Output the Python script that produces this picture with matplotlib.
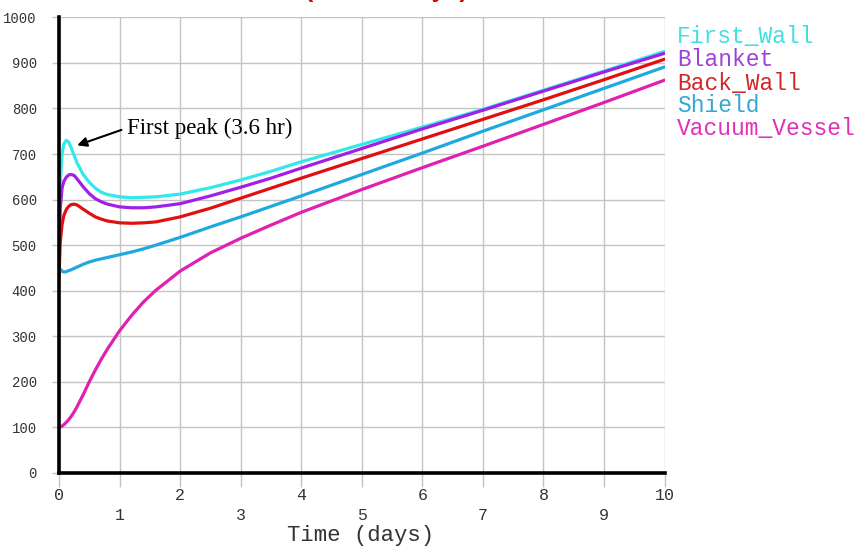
import matplotlib
matplotlib.use("Agg")
import matplotlib.pyplot as plt

# ---- data ----
time_days = [0, 0.02, 0.05, 0.08, 0.12, 0.16, 0.2, 0.25, 0.3, 0.4, 0.5, 0.6, 0.7, 0.8,
             1.0, 1.2, 1.4, 1.6, 2.0, 2.5, 3.0, 3.5, 4, 5, 6, 7, 8, 9, 10]

first_wall = [500, 635, 700, 722, 730, 726, 714, 697, 680, 655, 638, 625, 616, 611,
              606, 604, 605, 606, 612, 626, 643, 662, 683, 721, 759, 798, 840, 882, 925]
blanket = [460, 580, 625, 640, 649, 654, 655, 653, 645, 628, 613, 602, 595, 590,
           584, 582, 582, 584, 591, 608, 627, 647, 669, 712, 755, 796, 838, 880, 921]
back_wall = [430, 505, 545, 565, 578, 585, 589, 590, 588, 579, 570, 562, 557, 553,
             549, 548, 549, 551, 562, 581, 603, 625, 647, 690, 733, 776, 819, 863, 908]
shield = [452, 447, 443, 441, 442, 444, 446, 449, 452, 458, 463, 467, 470, 473,
          479, 485, 492, 500, 517, 540, 562, 585, 608, 655, 702, 750, 797, 844, 891]
vacuum_vessel = [100, 101, 103, 106, 111, 117, 124, 134, 146, 172, 200, 226, 250, 272,
                 312, 346, 376, 401, 443, 483, 515, 544, 572, 622, 670, 717, 765, 813, 862]

series_names = ["First_Wall", "Blanket", "Back_Wall", "Shield", "Vacuum_Vessel"]
line_colors = ["#33e8e8", "#a020e8", "#e01010", "#20a8e0", "#e020b0"]
text_colors = ["#40e0e0", "#a040d8", "#d02828", "#30a8d0", "#e030b8"]

y_ticks = list(range(0, 1001, 100))
x_major = [0, 2, 4, 6, 8, 10]
x_minor = [1, 3, 5, 7, 9]

annotation_text = "First peak (3.6 hr)"
x_label = "Time (days)"
title_text = "(first 10 days)"

# ---- figure ----
W, H = 859, 547
fig = plt.figure(figsize=(W / 100, H / 100), dpi=100)
fig.patch.set_facecolor("white")
ax = fig.add_axes([59 / W, 1 - 473 / H, (664.5 - 59) / W, (473 - 17.3) / H])

series = [first_wall, blanket, back_wall, shield, vacuum_vessel]
for vals, c in zip(series, line_colors):
    ax.plot(time_days, vals, color=c, lw=2.3, solid_capstyle="round", zorder=3)

ax.set_xlim(0, 10)
ax.set_ylim(0, 1000)

for s in ("top", "right"):
    ax.spines[s].set_visible(False)
for s in ("left", "bottom"):
    ax.spines[s].set_linewidth(2.6)
    ax.spines[s].set_color("black")
    ax.spines[s].set_zorder(4)

grid_c = "#c4c4c4"
ax.set_yticks(y_ticks)
ax.set_yticklabels([str(v) for v in y_ticks])
ax.set_xticks(x_major)
ax.set_xticklabels([str(v) for v in x_major])
ax.set_xticks(x_minor, minor=True)
ax.set_xticklabels([str(v) for v in x_minor], minor=True)

ax.grid(True, which="both", color=grid_c, lw=1.0, zorder=0)
ax.tick_params(axis="y", length=5, color=grid_c, width=1, pad=11,
               labelsize=10, labelcolor="#333333")
ax.tick_params(axis="x", which="major", length=10, color=grid_c, width=1, pad=1,
               labelsize=12, labelcolor="#333333")
ax.tick_params(axis="x", which="minor", length=10, color=grid_c, width=1, pad=15,
               labelsize=12, labelcolor="#333333")
for lab in ax.get_xticklabels() + ax.get_xticklabels(minor=True) + ax.get_yticklabels():
    lab.set_fontfamily("Liberation Mono")

fig.text(361 / W, 1 - 536 / H, x_label, ha="center", va="center",
         fontsize=16, family="Liberation Mono", color="#333333")

# legend as coloured text
for i, (name, c) in enumerate(zip(series_names, text_colors)):
    fig.text(677 / W, 1 - (37 + 23 * i) / H, name, ha="left", va="center",
             fontsize=16.5, family="Liberation Mono", color=c)

# annotation
ax.annotate(annotation_text, xy=(0.30, 719), xytext=(1.12, 757),
            ha="left", va="center", fontsize=16.5, family="Liberation Serif",
            arrowprops=dict(arrowstyle="-|>", color="black", lw=1.5,
                            shrinkA=2, shrinkB=0, relpos=(0, 0.5),
                            mutation_scale=14),
            zorder=5)

# cut-off title at the top edge (only the descenders remain visible)
fig.text(386 / W, 1 + 3 / H, title_text, ha="center", va="baseline",
         fontsize=18, fontweight="bold", family="Liberation Sans", color="#e00000")

fig.savefig("out.png", dpi=100)
